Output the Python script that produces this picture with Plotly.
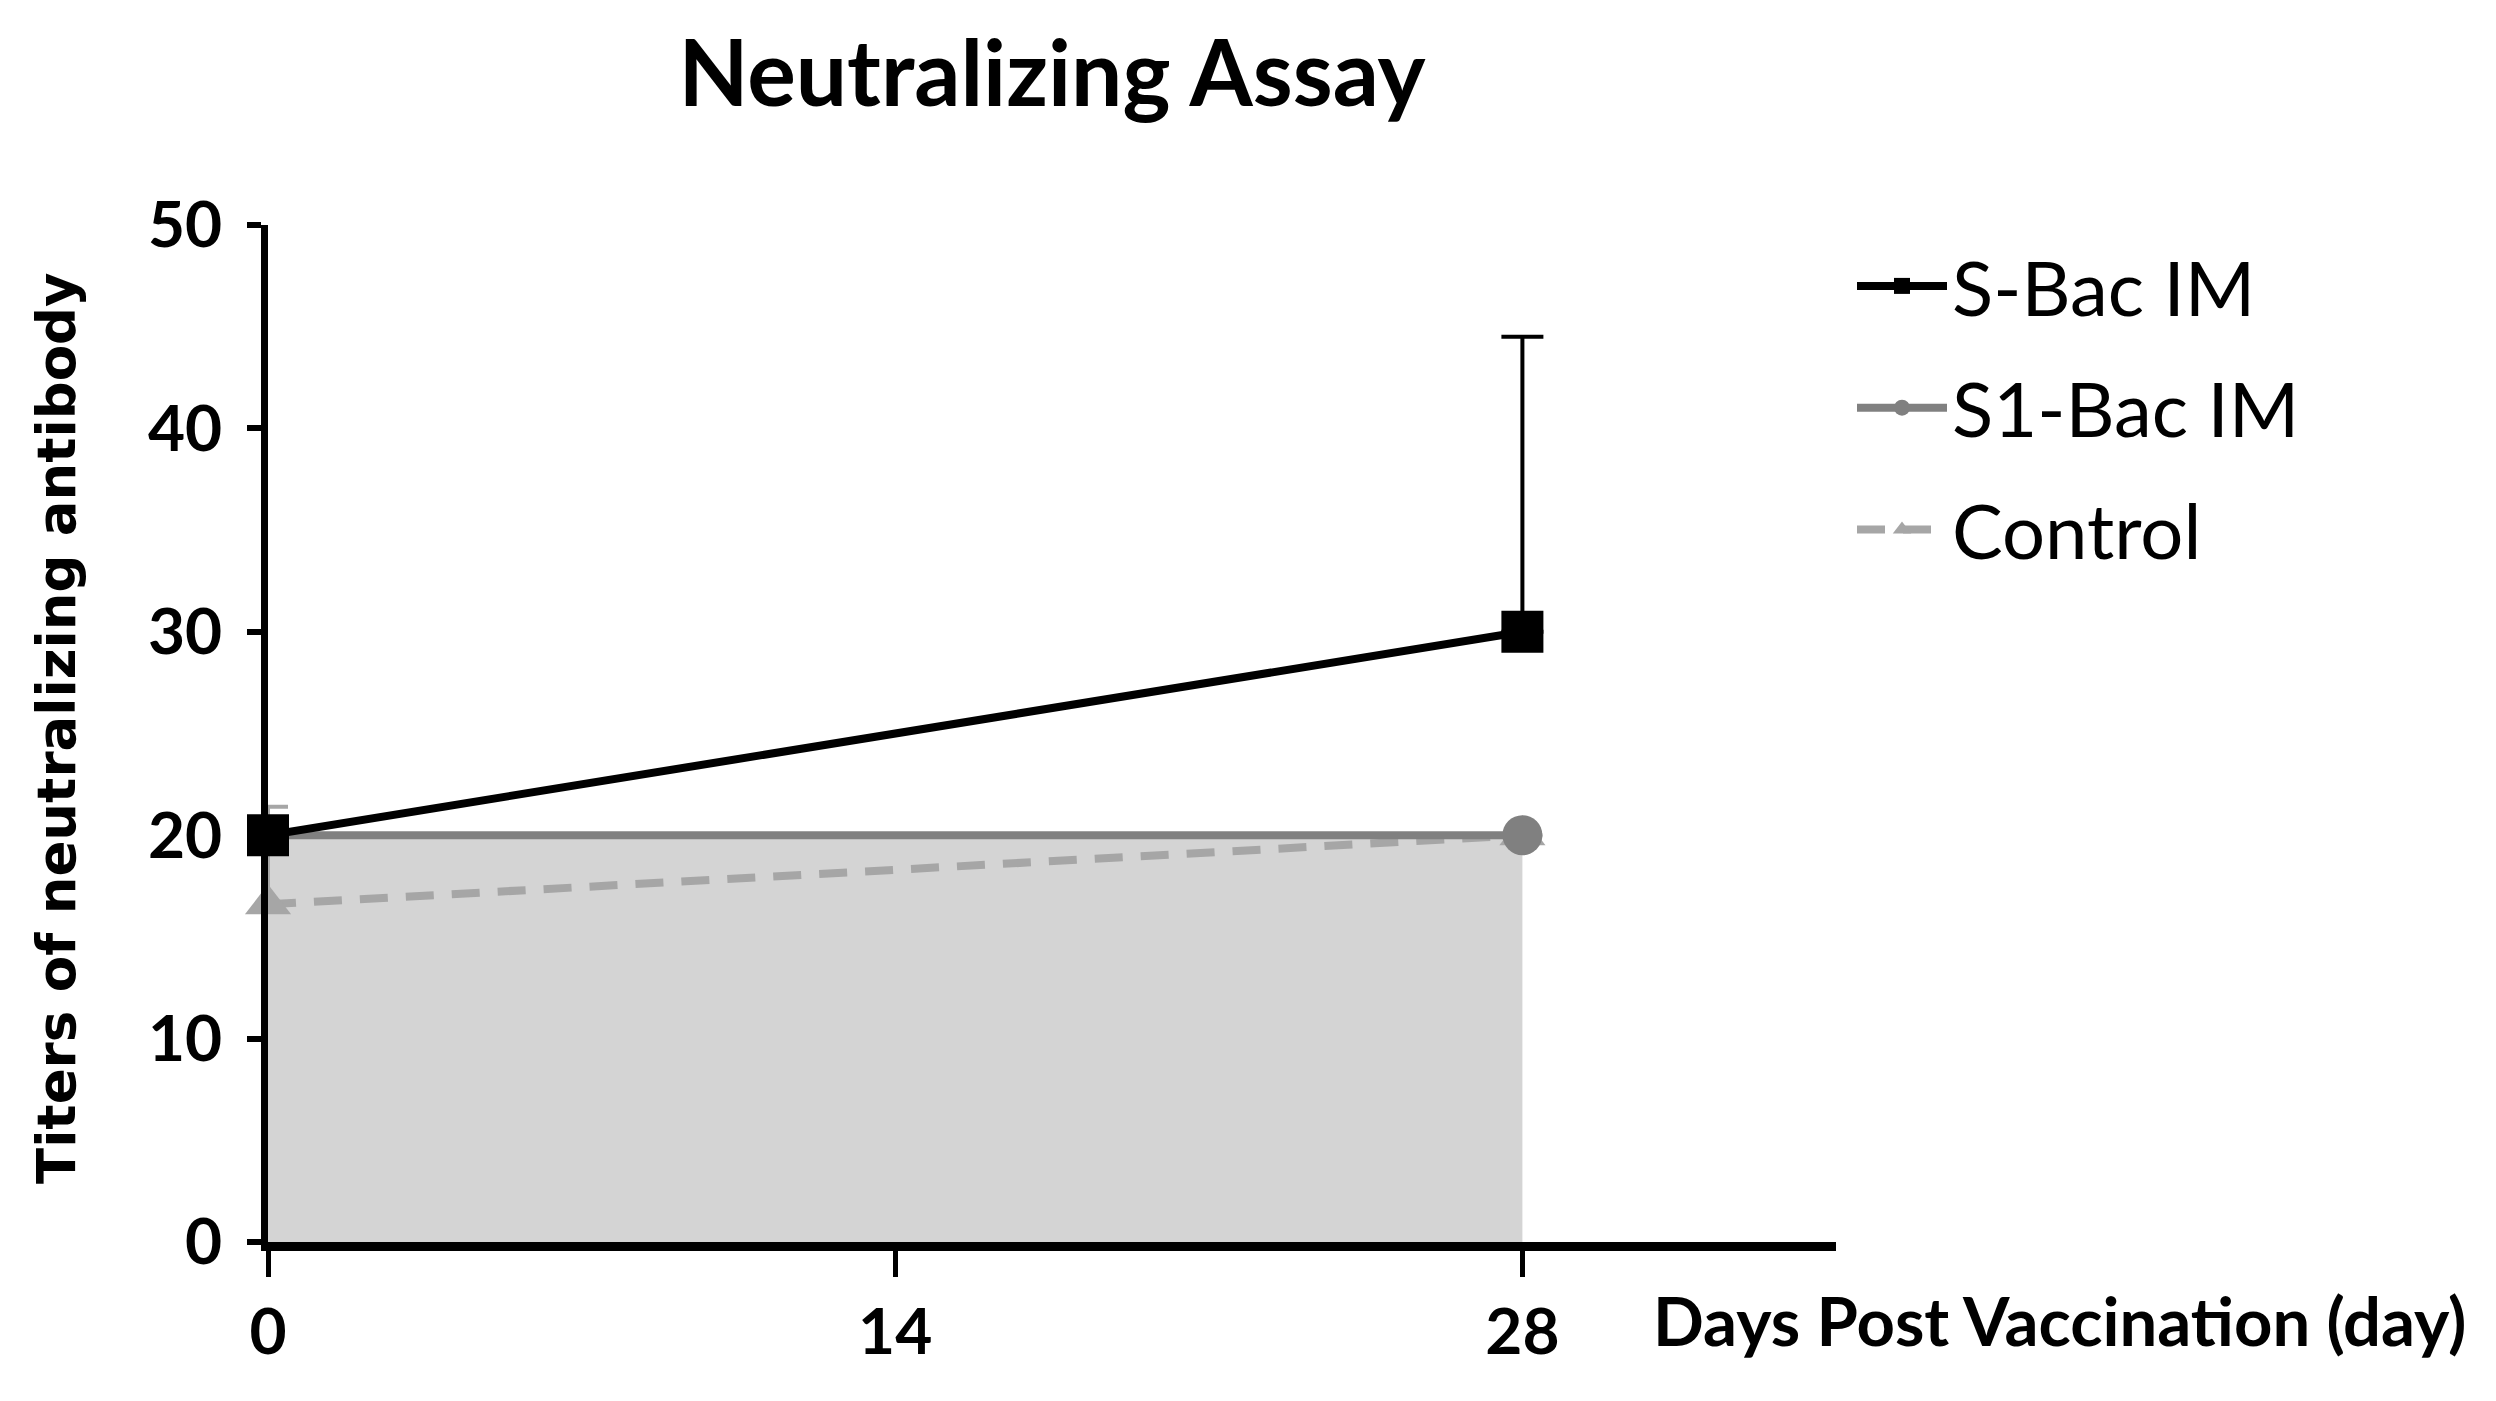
import plotly.graph_objects as go

days = [0, 28]
s_bac = [20, 30]
s_bac_err_up = [0, 14.5]
s1_bac = [20, 20]
control = [16.6, 20]
control_err_up = [4.8, 0]

x_ticks = [0, 14, 28]
y_ticks = [0, 10, 20, 30, 40, 50]

BLACK = "#000000"
GRAY = "#808080"
LIGHT = "#a6a6a6"
FILL = "#d4d4d4"

L, R, T, B = 260, 668, 217, 167
PW = 2496 - L - R
PH = 1401 - T - B

fig = go.Figure()

# area under S1-Bac IM
fig.add_trace(go.Scatter(
    x=days, y=s1_bac, mode="none", fill="tozeroy", fillcolor=FILL,
    showlegend=False, hoverinfo="skip"))

fig.add_trace(go.Scatter(
    x=days, y=control, name="Control", mode="lines+markers",
    line=dict(color=LIGHT, width=8, dash="28px,18px"),
    marker=dict(symbol="triangle-up", size=40, color=LIGHT),
    error_y=dict(type="data", symmetric=False, array=control_err_up,
                 arrayminus=[0, 0], color=LIGHT, thickness=4, width=20),
    legendrank=3, legendgroup="c", cliponaxis=False))

fig.add_trace(go.Scatter(
    x=days, y=s1_bac, name="S1-Bac IM", mode="lines+markers",
    line=dict(color=GRAY, width=8),
    marker=dict(symbol="circle", size=40, color=GRAY),
    legendrank=2, legendgroup="b", cliponaxis=False))

fig.add_trace(go.Scatter(
    x=days, y=s_bac, name="S-Bac IM", mode="lines+markers",
    line=dict(color=BLACK, width=8),
    marker=dict(symbol="square", size=42, color=BLACK),
    error_y=dict(type="data", symmetric=False, array=s_bac_err_up,
                 arrayminus=[0, 0], color=BLACK, thickness=4, width=21),
    legendrank=1, legendgroup="a", cliponaxis=False))

fig.update_layout(
    width=2496, height=1401,
    paper_bgcolor="white", plot_bgcolor="white",
    margin=dict(l=L, r=R, t=T, b=B),
    title=dict(text="Neutralizing Assay", x=0.5, xref="paper",
               y=1 - 66 / 1401, yref="container", yanchor="middle",
               font=dict(family="Lato", size=91, color="black", weight=700)),
    xaxis=dict(range=[0, 35], tickvals=x_ticks, ticktext=[str(v) for v in x_ticks],
               showgrid=False, zeroline=False, showline=True, linecolor="black",
               linewidth=9, ticks="outside", ticklen=26, tickwidth=5,
               tickcolor="black", ticklabelstandoff=0,
               tickfont=dict(family="Lato", size=64, color="black", weight=700)),
    yaxis=dict(range=[0, 50], tickvals=y_ticks, showgrid=False, zeroline=False,
               showline=True, linecolor="black", linewidth=7, ticks="outside",
               ticklen=14, tickwidth=6, tickcolor="black", ticklabelstandoff=12,
               tickfont=dict(family="Lato", size=64, color="black", weight=700)),
    legend=dict(x=(1844 - L) / PW, xanchor="left", y=(1401 - B - 222) / PH,
                yanchor="top", itemwidth=90, traceorder="grouped",
                tracegroupgap=20,
                font=dict(family="Lato", size=76, color="black"),
                bgcolor="rgba(0,0,0,0)"),
    annotations=[
        dict(text="Days Post Vaccination (day)", xref="paper", yref="paper",
             x=(1643 - L) / PW, y=(1401 - B - 1312) / PH, xanchor="left",
             yanchor="middle", showarrow=False,
             font=dict(family="Lato", size=67, color="black", weight=700)),
        dict(text="Titers of neutralizing antibody", xref="paper", yref="paper",
             x=(48 - L) / PW, y=(1401 - B - 720) / PH, xanchor="center",
             yanchor="middle", textangle=-90, showarrow=False,
             font=dict(family="DejaVu Sans", size=53, color="black", weight=700)),
    ],
)

fig.write_html("out.html")
